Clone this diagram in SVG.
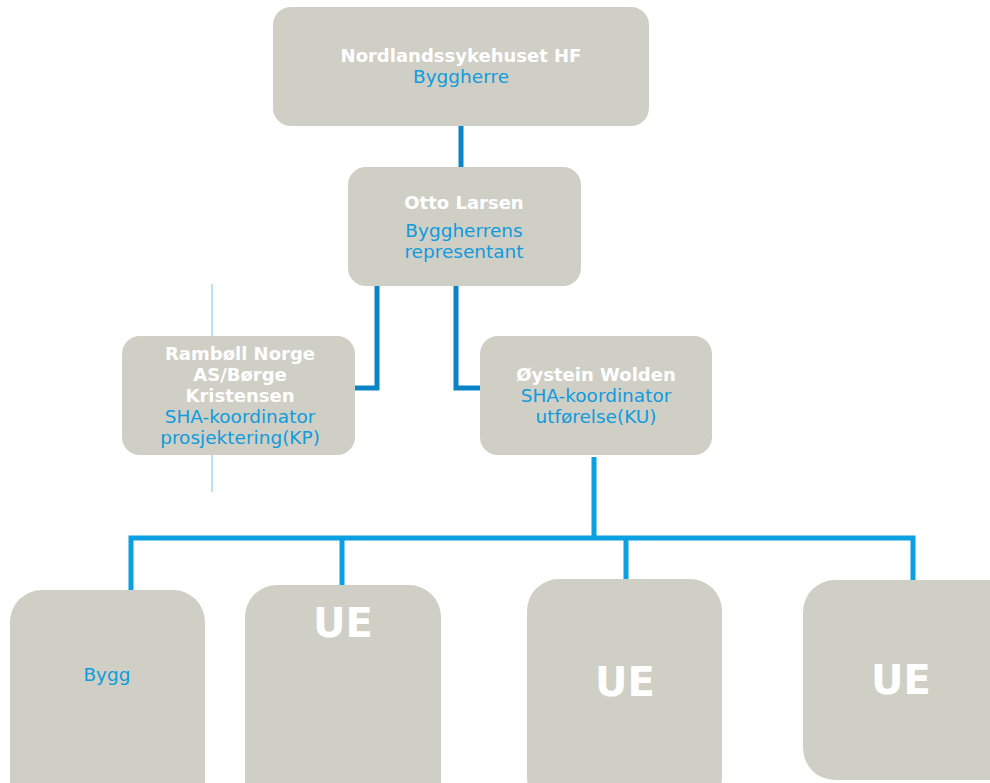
<svg xmlns="http://www.w3.org/2000/svg" width="990" height="783" viewBox="0 0 990 783">
<style>
.box{fill:#cfcfc6}
.t{font-family:"DejaVu Sans",Verdana,sans-serif;text-anchor:middle}
.w{fill:#ffffff;font-weight:bold;font-size:18px}
.b{fill:#0f9bdc;font-size:18.5px}
.ue{fill:#ffffff;font-weight:bold;font-size:40px}
.c1{fill:none;stroke:#0a84c6;stroke-width:5}
.c2{fill:none;stroke:#0aa0e2;stroke-width:5}
.lt{stroke:#a9d3f2;stroke-width:1.5}
</style>
<rect width="990" height="783" fill="#ffffff"/>
<g id="connectors">
<line class="lt" x1="212" y1="284" x2="212" y2="492"/>
<path class="c1" d="M461 126 V168"/>
<path class="c1" d="M377 286 V388 H355"/>
<path class="c1" d="M456 286 V388 H480"/>
<path class="c2" d="M594 457 V537"/>
<path class="c2" d="M131 590 V538 H913 V580"/>
<path class="c2" d="M342 538 V585"/>
<path class="c2" d="M626 538 V581"/>
</g>
<g id="n-top">
<rect class="box" x="273" y="7" width="376" height="119" rx="18"/>
<text class="t w" x="461" y="62">Nordlandssykehuset HF</text>
<text class="t b" x="461" y="83">Byggherre</text>
</g>
<g id="n-otto">
<rect class="box" x="348" y="167" width="233" height="119" rx="18"/>
<text class="t w" x="464" y="209">Otto Larsen</text>
<text class="t b" x="464" y="237">Byggherrens</text>
<text class="t b" x="464" y="258">representant</text>
</g>
<g id="n-ramboll">
<rect class="box" x="122" y="336" width="233" height="119" rx="18"/>
<text class="t w" x="240" y="360">Rambøll Norge</text>
<text class="t w" x="240" y="381">AS/Børge</text>
<text class="t w" x="240" y="402">Kristensen</text>
<text class="t b" x="240" y="423">SHA-koordinator</text>
<text class="t b" x="240" y="444">prosjektering(KP)</text>
</g>
<g id="n-oystein">
<rect class="box" x="480" y="336" width="232" height="119" rx="18"/>
<text class="t w" x="596" y="381">Øystein Wolden</text>
<text class="t b" x="596" y="402">SHA-koordinator</text>
<text class="t b" x="596" y="423">utførelse(KU)</text>
</g>
<g id="n-bygg">
<rect class="box" x="10" y="590" width="195" height="230" rx="32"/>
<text class="t b" x="107" y="681">Bygg</text>
</g>
<g id="n-ue1">
<rect class="box" x="245" y="585" width="196" height="230" rx="32"/>
<text class="t ue" x="343" y="637">UE</text>
</g>
<g id="n-ue2">
<rect class="box" x="527" y="579" width="195" height="230" rx="32"/>
<text class="t ue" x="625" y="696">UE</text>
</g>
<g id="n-ue3">
<rect class="box" x="803" y="580" width="220" height="200" rx="32"/>
<text class="t ue" x="901" y="694">UE</text>
</g>
</svg>
